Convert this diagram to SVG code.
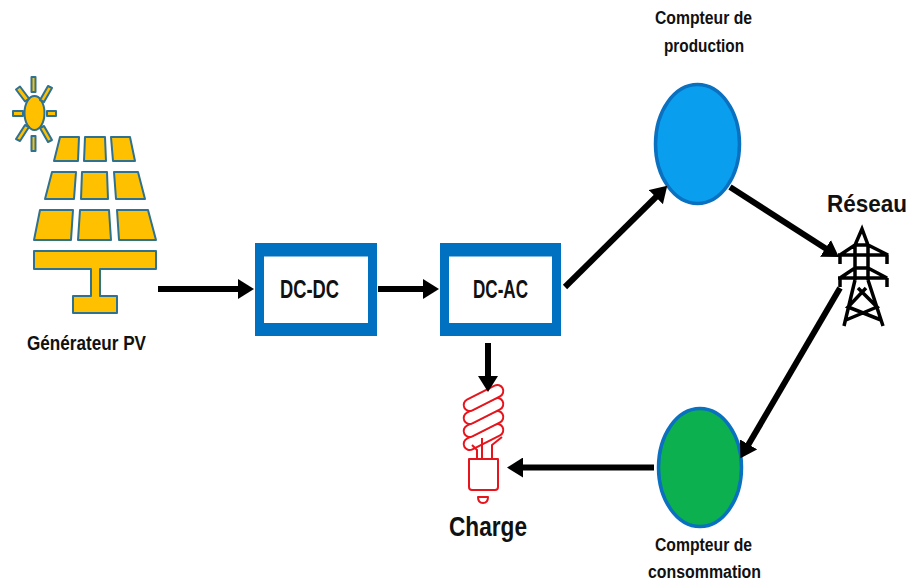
<svg xmlns="http://www.w3.org/2000/svg" width="912" height="584" viewBox="0 0 912 584">
<defs>
<marker id="ah" markerUnits="userSpaceOnUse" markerWidth="18" markerHeight="20" refX="3" refY="10" orient="auto"><path d="M0,0L16,10L0,20Z" fill="#000"/></marker>
</defs>
<style>
text{font-family:"Liberation Sans",Arial,sans-serif;font-weight:700;fill:#111;text-anchor:middle}
.p{fill:#ffc000;stroke:#2e7191;stroke-width:2;stroke-linejoin:round}
.box{fill:#0070c0}
.in{fill:#fff}
.c{stroke:#000;stroke-width:6;fill:none;marker-end:url(#ah)}
.b{fill:#fff;stroke:#e8141c;stroke-width:2;stroke-linejoin:round}
.t{fill:none;stroke:#000;stroke-width:3.500}
.m{stroke:#0a70c0;stroke-width:3.500}
</style>
<rect width="912" height="584" fill="#fff"/>
<g id="pv">
<ellipse class="p" cx="34.500" cy="113" rx="10" ry="17"/>
<path class="p" d="M31.500,77h4v15h-4zM31.500,136h4v15h-4zM13,111h10v5H13zM47,111h9v5H47z"/>
<path class="p" d="M20,86.500L29,98.500L25,101.500L16,89.500ZM52,88L44,102L40,100L48,86ZM29,127L20,141L16,139L25,125ZM44,126L52,140L48,142L40,128Z"/>
<path class="p" d="M60,137H79L78,161H54ZM85,137H105L106,161H84ZM111,137H130L135,161H113ZM52,172H76L74,199H45ZM82,172H107L108,199H81ZM114,172H138L145,199H116ZM40,210H73L71,240H34ZM80,210H109L111,240H78ZM117,210H148L156,240H119Z"/>
<path class="p" d="M34,251H156V269H100V296H117V313H73V296H91V269H34Z"/>
<text x="86.500" y="350" font-size="21" textLength="119" lengthAdjust="spacingAndGlyphs">Générateur PV</text>
</g>
<g id="dcdc"><rect class="box" x="255" y="243" width="122" height="93"/><rect class="in" x="264" y="256.500" width="104" height="66.500"/><text x="309.500" y="298" font-size="25" textLength="59" lengthAdjust="spacingAndGlyphs">DC-DC</text></g>
<g id="dcac"><rect class="box" x="440" y="243" width="121" height="93"/><rect class="in" x="449" y="256.500" width="103" height="66.500"/><text x="500.500" y="298" font-size="25" textLength="55" lengthAdjust="spacingAndGlyphs">DC-AC</text></g>
<g id="prod"><ellipse class="m" cx="697.500" cy="144" rx="42" ry="59.500" fill="#0a9fee"/><text x="703.500" y="24" font-size="18" textLength="97" lengthAdjust="spacingAndGlyphs">Compteur de</text><text x="704" y="52" font-size="18" textLength="80" lengthAdjust="spacingAndGlyphs">production</text></g>
<g id="cons"><ellipse class="m" cx="700" cy="467.500" rx="41.500" ry="59" fill="#0cb04e"/><text x="703.500" y="551" font-size="18" textLength="97" lengthAdjust="spacingAndGlyphs">Compteur de</text><text x="704.500" y="578" font-size="18" textLength="113" lengthAdjust="spacingAndGlyphs">consommation</text></g>
<g id="reseau">
<text x="867" y="212" font-size="24" textLength="80" lengthAdjust="spacingAndGlyphs">Réseau</text>
<path class="t" d="M855,280V245L862,229L868,245V280M840,255L855,245H868L888,255H838M840,255V264M887,255V264M855,268H868M840,278L855,268M868,268L887,278H838M840,278V287M887,278V287M855,280L844,326M868,280L883,326M858,288L877,307L846,320M866,288L848,307L881,320"/>
</g>
<g id="charge">
<rect class="b" x="462" y="431" width="43" height="12" rx="6" transform="rotate(-27 483.500 437)"/>
<rect class="b" x="462" y="418" width="43" height="12" rx="6" transform="rotate(-27 483.500 424)"/>
<rect class="b" x="462" y="405" width="43" height="12" rx="6" transform="rotate(-27 483.500 411)"/>
<rect class="b" x="462" y="392" width="43" height="12" rx="6" transform="rotate(-27 483.500 398)"/>
<path class="b" style="fill:none" d="M472,445L477,450V459M482,438V459M502,437L492,445V459"/>
<path class="b" d="M469,459H498V487Q498,490 495,490H472Q469,490 469,487Z"/>
<path class="b" d="M478,497H488Q488,503 483,503Q478,503 478,497Z"/>
<text x="488" y="536" font-size="28" textLength="78" lengthAdjust="spacingAndGlyphs">Charge</text>
</g>
<g id="connectors">
<path class="c" d="M158,289H241"/>
<path class="c" d="M378,289H426"/>
<path class="c" d="M565,287L658,195"/>
<path class="c" d="M730,187L828,250"/>
<path class="c" d="M840,288L747,447"/>
<path class="c" d="M654,467.500H520"/>
<path class="c" d="M488,343V379"/>
</g>
</svg>
